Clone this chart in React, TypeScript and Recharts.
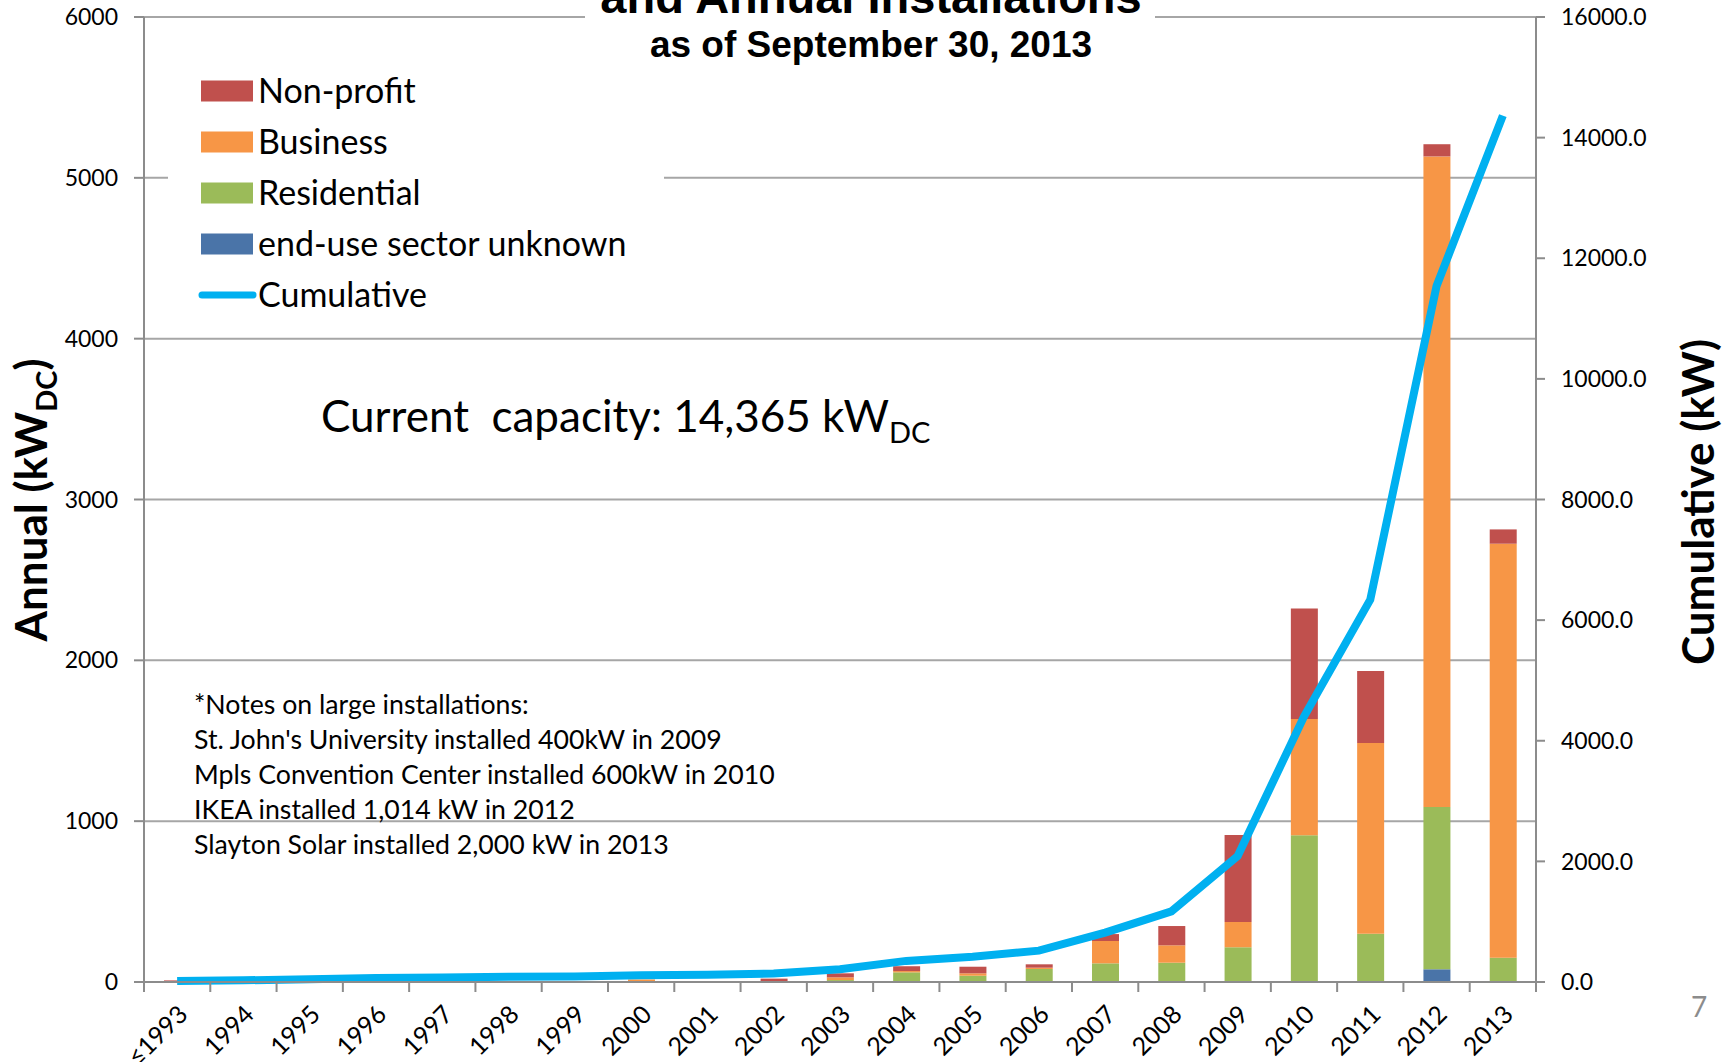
import React from 'react';
import {
  ComposedChart,
  Bar,
  Line,
  XAxis,
  YAxis,
  CartesianGrid,
} from 'recharts';

// Annual installed capacity (kW DC) by end-use sector, plus cumulative (kW)
const years = [
  '≤1993', '1994', '1995', '1996', '1997', '1998', '1999', '2000', '2001', '2002',
  '2003', '2004', '2005', '2006', '2007', '2008', '2009', '2010', '2011', '2012', '2013',
];
const unknownSector = [0, 0, 0, 0, 0, 0, 0, 0, 0, 0, 0, 0, 0, 0, 0, 0, 0, 0, 0, 79, 0];
const residential = [0, 0, 0, 0, 6, 2, 3, 6, 3, 3, 12, 60, 39, 81, 116, 120, 216, 912, 300, 1009, 151];
const business = [3, 0, 0, 0, 2, 0, 0, 10, 0, 0, 17, 8, 15, 8, 139, 108, 157, 723, 1186, 4045, 2574];
const nonProfit = [7, 0, 0, 0, 0, 4, 0, 0, 0, 18, 25, 30, 41, 21, 43, 120, 541, 688, 448, 76, 89];
const cumulative = [15, 28, 45, 65, 75, 85, 90, 110, 120, 140, 210, 350, 420, 520, 820, 1170, 2090, 4400, 6340, 11540, 14365];

const leftTicks = [0, 1000, 2000, 3000, 4000, 5000, 6000];
const rightTicks = [0, 2000, 4000, 6000, 8000, 10000, 12000, 14000, 16000];

const notes = [
  '*Notes on large installations:',
  "St. John's University installed 400kW in 2009",
  'Mpls Convention Center installed 600kW in 2010',
  'IKEA installed 1,014 kW in 2012',
  'Slayton Solar installed 2,000 kW in 2013',
];

const legendItems = [
  { name: 'Non-profit', color: '#C0504D', kind: 'box' },
  { name: 'Business', color: '#F79646', kind: 'box' },
  { name: 'Residential', color: '#9BBB59', kind: 'box' },
  { name: 'end-use sector unknown', color: '#4A74A8', kind: 'box' },
  { name: 'Cumulative', color: '#00B0F0', kind: 'line' },
];

const data = years.map((year, i) => ({
  year,
  unknownSector: unknownSector[i],
  residential: residential[i],
  business: business[i],
  nonProfit: nonProfit[i],
  cumulative: cumulative[i],
}));

const W = 1735;
const H = 1062;
const PLOT_LEFT = 144;
const PLOT_RIGHT = 1536;
const PLOT_TOP = 17;
const PLOT_BOTTOM = 982;
const BAND = (PLOT_RIGHT - PLOT_LEFT) / years.length;
const CALIBRI = 'Lato, "Open Sans", sans-serif';
const ARIAL = '"Liberation Sans", Arial, sans-serif';
const AXIS_GRAY = '#8C8C8C';

const XTick = (props: any) => {
  const { x, payload, index } = props;
  const y = PLOT_BOTTOM;
  return (
    <g>
      <line x1={x - BAND / 2} y1={y} x2={x - BAND / 2} y2={y + 10} stroke={AXIS_GRAY} strokeWidth={2} />
      {index === years.length - 1 && (
        <line x1={x + BAND / 2} y1={y} x2={x + BAND / 2} y2={y + 10} stroke={AXIS_GRAY} strokeWidth={2} />
      )}
      <text
        x={x + 12}
        y={y + 34}
        textAnchor="end"
        transform={`rotate(-45 ${x + 12} ${y + 34})`}
        fontFamily={CALIBRI}
        fontSize={25}
        fill="#000"
      >
        {payload.value}
      </text>
    </g>
  );
};

export default function App() {
  return (
    <div style={{ position: 'absolute', left: 0, top: 0, width: W, height: H, background: '#fff' }}>
      <ComposedChart
        width={W}
        height={H}
        data={data}
        margin={{ top: PLOT_TOP, right: 0, bottom: 0, left: 0 }}
        barSize={27}
      >
        <CartesianGrid yAxisId="left" vertical={false} stroke="#A6A6A6" strokeWidth={2} />
        <XAxis
          dataKey="year"
          height={H - PLOT_BOTTOM}
          stroke={AXIS_GRAY}
          strokeWidth={2}
          tickLine={false}
          tick={<XTick />}
          interval={0}
        />
        <YAxis
          yAxisId="left"
          orientation="left"
          width={PLOT_LEFT}
          domain={[0, 6000]}
          ticks={leftTicks}
          stroke={AXIS_GRAY}
          strokeWidth={2}
          tickSize={10}
          tickMargin={16}
          tick={{ fill: '#000', fontSize: 23, fontFamily: CALIBRI }}
        />
        <YAxis
          yAxisId="right"
          orientation="right"
          width={W - PLOT_RIGHT}
          domain={[0, 16000]}
          ticks={rightTicks}
          stroke={AXIS_GRAY}
          strokeWidth={2}
          tickSize={9}
          tickMargin={16}
          tickFormatter={(v: number) => v.toFixed(1)}
          tick={{ fill: '#000', fontSize: 23, fontFamily: CALIBRI }}
        />
        <Bar yAxisId="left" dataKey="unknownSector" stackId="a" fill="#4A74A8" isAnimationActive={false} />
        <Bar yAxisId="left" dataKey="residential" stackId="a" fill="#9BBB59" isAnimationActive={false} />
        <Bar yAxisId="left" dataKey="business" stackId="a" fill="#F79646" isAnimationActive={false} />
        <Bar yAxisId="left" dataKey="nonProfit" stackId="a" fill="#C0504D" isAnimationActive={false} />
        <Line
          yAxisId="right"
          type="linear"
          dataKey="cumulative"
          stroke="#00B0F0"
          strokeWidth={8}
          dot={false}
          isAnimationActive={false}
        />
      </ComposedChart>

      {/* overlay: titles, legend, annotations */}
      <svg
        width={W}
        height={H}
        style={{ position: 'absolute', left: 0, top: 0, pointerEvents: 'none' }}
      >
        <rect x={585} y={0} width={570} height={19} fill="#fff" />
        <text x={871} y={13} textAnchor="middle" fontFamily={ARIAL} fontWeight="bold" fontSize={47}>
          and Annual Installations
        </text>
        <text x={871} y={57} textAnchor="middle" fontFamily={ARIAL} fontWeight="bold" fontSize={37}>
          as of September 30, 2013
        </text>

        <rect x={168} y={66} width={496} height={254} fill="#fff" />
        {legendItems.map((item, i) => {
          const cy = 91 + i * 51;
          return (
            <g key={item.name}>
              {item.kind === 'box' ? (
                <rect x={201} y={cy - 10.5} width={52} height={21} fill={item.color} />
              ) : (
                <line x1={202} y1={cy} x2={253} y2={cy} stroke={item.color} strokeWidth={7} strokeLinecap="round" />
              )}
              <text x={258} y={cy + 12} fontFamily={CALIBRI} fontSize={34} fill="#000">
                {item.name}
              </text>
            </g>
          );
        })}

        <text x={321} y={432} fontFamily={CALIBRI} fontSize={44} fill="#000" xmlSpace="preserve">
          Current  capacity: 14,365 kW
          <tspan fontSize={29} dy={11}>DC</tspan>
        </text>

        {notes.map((line, i) => (
          <text key={i} x={194} y={714 + i * 35} fontFamily={CALIBRI} fontSize={26.7} fill="#000">
            {line}
          </text>
        ))}

        <text
          x={47}
          y={500}
          textAnchor="middle"
          transform="rotate(-90 47 500)"
          fontFamily={CALIBRI}
          fontWeight="bold"
          fontSize={44}
          fill="#000"
        >
          Annual (kW
          <tspan fontSize={29} dy={10}>DC</tspan>
          <tspan dy={-10}>)</tspan>
        </text>
        <text
          x={1714}
          y={502}
          textAnchor="middle"
          transform="rotate(-90 1714 502)"
          fontFamily={CALIBRI}
          fontWeight="bold"
          fontSize={44}
          fill="#000"
        >
          Cumulative (kW)
        </text>

        <text x={1699} y={1017} textAnchor="middle" fontFamily={CALIBRI} fontSize={28} fill="#8C8C8C">
          7
        </text>
      </svg>
    </div>
  );
}
